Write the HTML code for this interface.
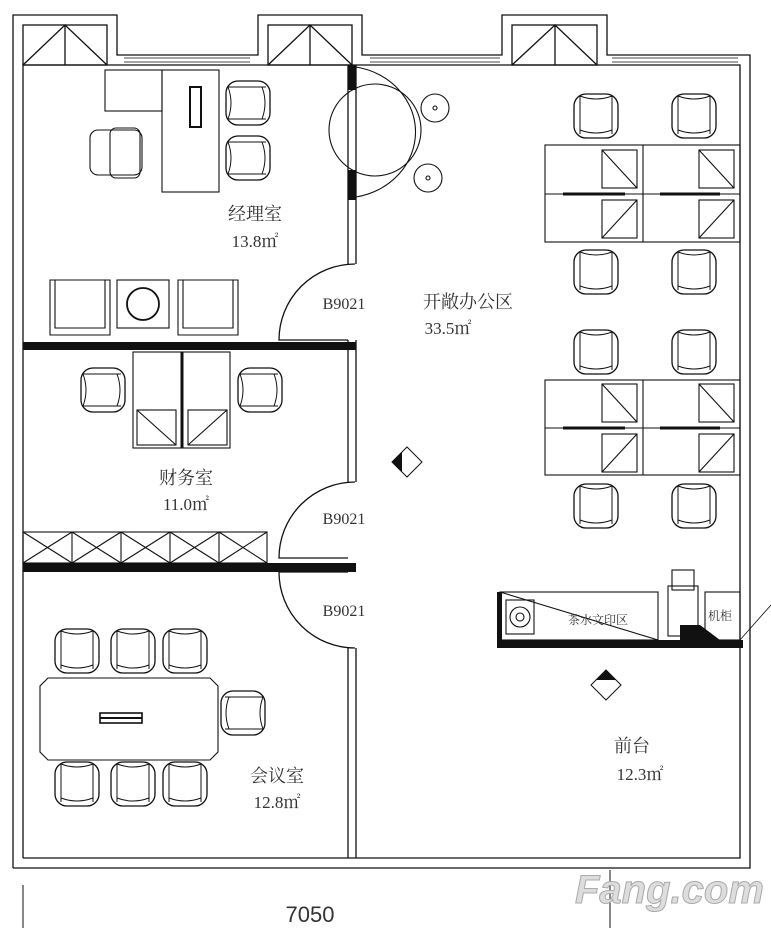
<!DOCTYPE html>
<html><head><meta charset="utf-8"><style>
html,body{margin:0;padding:0;background:#fff;width:771px;height:928px;overflow:hidden}
svg{display:block}
text{font-family:"Liberation Serif","Noto Serif CJK SC","Noto Sans CJK SC",serif;fill:#333}
</style></head><body>
<svg width="771" height="928" viewBox="0 0 771 928" xmlns="http://www.w3.org/2000/svg">
<defs>
<g id="chair">
<rect x="-22" y="-22" width="44" height="44" rx="12" fill="#fff" stroke="#111" stroke-width="1.3"/>
<path d="M-16,-20 Q0,-14 16,-20 M-16,-20 L-16,18 M16,-20 L16,18 M-16,14 Q0,20 16,14" fill="none" stroke="#111" stroke-width="1"/>
</g>
<g id="chairR">
<rect x="-22" y="-22" width="44" height="44" rx="12" fill="#fff" stroke="#111" stroke-width="1.3"/>
<path d="M-20,-16 Q-14,0 -20,16 M-20,-16 L18,-16 M-20,16 L18,16 M14,-16 Q20,0 14,16" fill="none" stroke="#111" stroke-width="1"/>
</g>
<g id="chairL">
<rect x="-22" y="-22" width="44" height="44" rx="12" fill="#fff" stroke="#111" stroke-width="1.3"/>
<path d="M20,-16 Q14,0 20,16 M20,-16 L-18,-16 M20,16 L-18,16 M-14,-16 Q-20,0 -14,16" fill="none" stroke="#111" stroke-width="1"/>
</g>
</defs>
<g fill="none" stroke="#111" stroke-width="1.3">
<!-- outer walls -->
<path d="M13,868 L13,15 L117,15 L117,55 L258,55 L258,15 L362,15 L362,55 L502,55 L502,15 L607,15 L607,55 L750,55 L750,868 L13,868"/>
<path d="M23,858 L23,65 L740,65 L740,858 L23,858"/>
<path d="M124,58 L250,58 M124,62 L250,62 M370,58 L500,58 M370,62 L500,62 M612,58 L738,58 M612,62 L738,62" stroke-width="0.8"/>
<!-- bays -->
<rect x="23" y="25" width="84" height="40"/>
<path d="M23,65 L65,25 L107,65 M65,25 L65,65"/>
<rect x="268" y="25" width="84" height="40"/>
<path d="M268,65 L310,25 L352,65 M310,25 L310,65"/>
<rect x="512" y="25" width="85" height="40"/>
<path d="M512,65 L555,25 L597,65 M555,25 L555,65"/>
<!-- partition -->
<path d="M348,65 L348,264 M356,65 L356,264 M348,340 L348,482 M356,340 L356,482 M348,648 L348,858 M356,648 L356,858"/>
<!-- doors -->
<path d="M355,264 A76,76 0 0 0 279,340 L348,340"/>
<path d="M355,482 A76,76 0 0 0 279,558 L348,558"/>
<path d="M279,572 L348,572 M279,572 A76,76 0 0 0 355,648"/>
</g>
<g fill="#111">
<rect x="348" y="65" width="8" height="25"/>
<rect x="348" y="170" width="8" height="30"/>
<rect x="23" y="342" width="333" height="8"/>
<rect x="23" y="563" width="333" height="9"/>
</g>
<g fill="none" stroke="#111" stroke-width="1.1">
<!-- manager room -->
<rect x="105" y="70" width="57" height="41"/>
<rect x="162" y="70" width="57" height="122"/>
<rect x="190" y="87" width="11" height="40" stroke-width="2"/>
<rect x="90" y="130" width="52" height="45" rx="8"/>
<rect x="110" y="128" width="30" height="50" rx="6"/>
<rect x="117" y="280" width="52" height="48"/>
<circle cx="143" cy="304" r="16" stroke-width="1.8"/>
<path d="M50,280 L110,280 L110,335 L50,335 Z M55,280 L55,328 L105,328 L105,280"/>
<path d="M178,280 L238,280 L238,335 L178,335 Z M183,280 L183,328 L233,328 L233,280"/>
<!-- round table -->
<circle cx="375" cy="130" r="46"/>
<path d="M356,67 A72,66 0 0 1 356,197"/>
<circle cx="435" cy="108" r="14"/><circle cx="435" cy="108" r="2"/>
<circle cx="428" cy="178" r="14"/><circle cx="428" cy="178" r="2"/>
<!-- finance -->
<rect x="133" y="352" width="97" height="96"/>
<path d="M182,352 L182,448" stroke-width="3"/>
<rect x="137" y="410" width="39" height="35"/><path d="M137,410 L176,445"/>
<rect x="188" y="410" width="39" height="35"/><path d="M188,445 L227,410"/>
<!-- shelf -->
<rect x="23" y="532" width="244" height="31"/>
<path d="M72,532 L72,563 M121,532 L121,563 M170,532 L170,563 M219,532 L219,563"/>
<path d="M23,532 L72,563 M72,532 L23,563 M72,532 L121,563 M121,532 L72,563 M121,532 L170,563 M170,532 L121,563 M170,532 L219,563 M219,532 L170,563 M219,532 L267,563 M267,532 L219,563"/>
<!-- meeting table -->
<path d="M48,678 L210,678 L218,686 L218,752 L210,760 L48,760 L40,752 L40,686 Z"/>
<rect x="100" y="713" width="42" height="10" stroke-width="1.6"/>
<path d="M100,718 L142,718" stroke-width="2"/>
<!-- workstations -->
<rect x="545" y="145" width="195" height="97"/>
<path d="M643,145 L643,242 M545,194 L740,194"/>
<path d="M563,194 L625,194 M660,194 L720,194" stroke-width="3"/>
<rect x="602" y="150" width="35" height="38"/><path d="M602,150 L637,188"/>
<rect x="699" y="150" width="35" height="38"/><path d="M699,150 L734,188"/>
<rect x="602" y="200" width="35" height="38"/><path d="M602,238 L637,200"/>
<rect x="699" y="200" width="35" height="38"/><path d="M699,238 L734,200"/>
<rect x="545" y="380" width="195" height="95"/>
<path d="M643,380 L643,475 M545,428 L740,428"/>
<path d="M563,428 L625,428 M660,428 L720,428" stroke-width="3"/>
<rect x="602" y="384" width="35" height="38"/><path d="M602,384 L637,422"/>
<rect x="699" y="384" width="35" height="38"/><path d="M699,384 L734,422"/>
<rect x="602" y="434" width="35" height="38"/><path d="M602,472 L637,434"/>
<rect x="699" y="434" width="35" height="38"/><path d="M699,472 L734,434"/>
<!-- tea area -->
<rect x="500" y="592" width="158" height="48"/>
<path d="M500,592 L658,640"/>
<rect x="506" y="600" width="28" height="34"/>
<circle cx="520" cy="617" r="10"/><circle cx="520" cy="617" r="4"/>
<rect x="668" y="586" width="30" height="50"/>
<rect x="672" y="570" width="22" height="20"/>
<rect x="705" y="592" width="35" height="48"/>
<path d="M740,640 L771,605" stroke-width="0.8"/>
</g>
<g fill="#111">
<rect x="497" y="640" width="246" height="8"/>
<rect x="497" y="592" width="5" height="56"/>
<path d="M680,625 L700,625 L720,640 L680,640 Z"/>
</g>
<!-- chairs -->
<use href="#chairR" x="248" y="103"/><use href="#chairR" x="248" y="158"/>
<use href="#chairR" x="103" y="390"/><use href="#chairR" x="260" y="390"/>
<use href="#chair" x="596" y="116"/><use href="#chair" x="694" y="116"/>
<use href="#chair" x="596" y="272"/><use href="#chair" x="694" y="272"/>
<use href="#chair" x="596" y="352"/><use href="#chair" x="694" y="352"/>
<use href="#chair" x="596" y="506"/><use href="#chair" x="694" y="506"/>
<use href="#chair" x="77" y="651"/><use href="#chair" x="133" y="651"/><use href="#chair" x="185" y="651"/>
<use href="#chair" x="77" y="784"/><use href="#chair" x="133" y="784"/><use href="#chair" x="185" y="784"/>
<use href="#chairL" x="243" y="713"/>
<!-- markers -->
<path d="M392,462 L407,447 L422,462 L407,477 Z" fill="none" stroke="#111"/>
<path d="M392,462 L402,452 L402,472 Z" fill="#111"/>
<path d="M591,685 L606,670 L621,685 L606,700 Z" fill="none" stroke="#111"/>
<path d="M606,670 L596,680 L616,680 Z" fill="#111"/>
<!-- dimension -->
<path d="M23,885 L23,928 M610,870 L610,928" stroke="#111" stroke-width="1"/>
<!-- labels -->
<text x="255" y="220" font-size="18" text-anchor="middle">经理室</text>
<text x="255" y="247" font-size="17" text-anchor="middle">13.8㎡</text>
<text x="468" y="308" font-size="18" text-anchor="middle">开敞办公区</text>
<text x="448" y="334" font-size="17" text-anchor="middle">33.5㎡</text>
<text x="186" y="484" font-size="18" text-anchor="middle">财务室</text>
<text x="186" y="510" font-size="17" text-anchor="middle">11.0㎡</text>
<text x="277" y="782" font-size="18" text-anchor="middle">会议室</text>
<text x="277" y="808" font-size="17" text-anchor="middle">12.8㎡</text>
<text x="632" y="752" font-size="18" text-anchor="middle">前台</text>
<text x="640" y="780" font-size="17" text-anchor="middle">12.3㎡</text>
<text x="344" y="309" font-size="16" text-anchor="middle">B9021</text>
<text x="344" y="524" font-size="16" text-anchor="middle">B9021</text>
<text x="344" y="616" font-size="16" text-anchor="middle">B9021</text>
<text x="598" y="624" font-size="12" text-anchor="middle">茶水文印区</text>
<text x="720" y="620" font-size="12" text-anchor="middle">机柜</text>
<text x="310" y="922" font-size="22" text-anchor="middle" style="font-family:'Liberation Sans',sans-serif" fill="#444">7050</text>
<text x="575" y="903" font-size="40" font-weight="bold" font-style="italic" style="font-family:'Liberation Sans',sans-serif;fill:#ddd;stroke:#aaa;stroke-width:1">Fang.com</text>
</svg>
</body></html>
